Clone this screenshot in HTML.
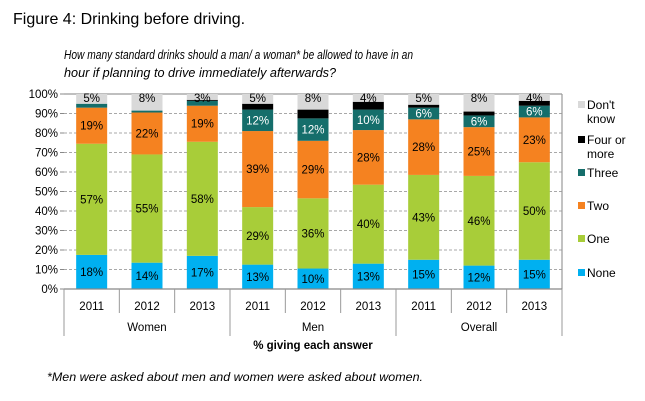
<!DOCTYPE html>
<html><head><meta charset="utf-8"><style>
body{margin:0;background:#fff}
svg{display:block;font-family:"Liberation Sans",Arial,sans-serif}
</style></head><body>
<svg id="s" width="645" height="401" viewBox="0 0 645 401" xmlns="http://www.w3.org/2000/svg">
<text x="13" y="24" font-size="16" fill="#000">Figure 4: Drinking before driving.</text>
<text x="64" y="59" font-size="12.5" font-style="italic" fill="#000" textLength="349" lengthAdjust="spacingAndGlyphs">How many standard drinks should a man/ a woman* be allowed to have in an</text>
<text x="64" y="77" font-size="12.5" font-style="italic" fill="#000" textLength="272" lengthAdjust="spacingAndGlyphs">hour if planning to drive immediately afterwards?</text>
<text x="47" y="381" font-size="12" font-style="italic" fill="#000" textLength="376" lengthAdjust="spacingAndGlyphs">*Men were asked about men and women were asked about women.</text>
<g id="g"></g>
</svg>
<script>
const g=document.getElementById('g');let h='';
const X0=64,X1=562,Y0=289,K=1.95;const W=(X1-X0)/9;
const y=v=>Y0-v*K;
for(let i=0;i<=10;i++){const yy=y(i*10);
 if(i>0&&i<10)h+=`<line x1="${X0}" x2="${X1}" y1="${yy}" y2="${yy}" stroke="#8c8c8c" stroke-width="0.8" stroke-dasharray="3,2"/>`;
 h+=`<line x1="${X0-4}" x2="${X0}" y1="${yy}" y2="${yy}" stroke="#888"/>`;
 h+=`<text x="${X0-6}" y="${yy+4}" font-size="11.5" text-anchor="end">${i*10}%</text>`;}
h+=`<line x1="${X0}" x2="${X1}" y1="${y(100)}" y2="${y(100)}" stroke="#999" stroke-width="1.2"/>`;
h+=`<line x1="${X1}" x2="${X1}" y1="${y(100)}" y2="${Y0}" stroke="#999" stroke-width="1.2"/>`;
const C=['#00b0f0','#a8cd39','#f58220','#156e6b','#000','#d9d9d9'];
const D=[[17.5,74.5,93,95,95,100],[13.5,69,90.5,91.5,91.5,100],[17,75.5,94,96.5,97,100],
[12.5,42,81,92,95,100],[10.5,46.5,76,87.5,92,100],[13,53.5,81.5,92,96,100],
[15,58.5,87,93,94.5,100],[12,58,83,89,91,100],[15,65,88,94,96.5,100]];
const L=[['18%','57%','19%','','','5%'],['14%','55%','22%','','','8%'],['17%','58%','19%','','','3%'],
['13%','29%','39%','12%','','5%'],['10%','36%','29%','12%','','8%'],['13%','40%','28%','10%','','4%'],
['15%','43%','28%','6%','','5%'],['12%','46%','25%','6%','','8%'],['15%','50%','23%','6%','','4%']];
const yrs=['2011','2012','2013'];
D.forEach((d,i)=>{const cx=X0+W*(i+.5),bw=31;let p=0;
 d.forEach((t,j)=>{if(t>p){h+=`<rect x="${cx-bw/2}" y="${y(t)}" width="${bw}" height="${(t-p)*K}" fill="${C[j]}"/>`;}
  if(L[i][j]){let ty=(y(p)+y(t))/2+4;if(j==5)ty=y(100)+8;
   h+=`<text x="${cx}" y="${ty}" font-size="11.5" text-anchor="middle" fill="${j==3?'#fff':'#000'}">${L[i][j]}</text>`;}
  p=t;});
 h+=`<text x="${cx}" y="310" font-size="11.5" text-anchor="middle">${yrs[i%3]}</text>`;});
h+=`<line x1="${X0}" x2="${X1}" y1="${Y0}" y2="${Y0}" stroke="#888" stroke-width="1.2"/>`;
for(let i=0;i<=9;i++){const xx=X0+W*i;h+=`<line x1="${xx}" x2="${xx}" y1="${Y0}" y2="${i%3==0?336:313}" stroke="#999"/>`;}
['Women','Men','Overall'].forEach((n,i)=>h+=`<text x="${X0+W*(i*3+1.5)}" y="331" font-size="11.5" text-anchor="middle">${n}</text>`);
h+=`<text x="${X0+W*4.5}" y="349" font-size="11.5" font-weight="bold" text-anchor="middle">% giving each answer</text>`;
const LG=[['#d9d9d9',['Don\'t','know'],109],['#000',['Four or','more'],144],['#156e6b',['Three'],177],['#f58220',['Two'],210],['#a8cd39',['One'],243],['#00b0f0',['None'],277]];
LG.forEach(([c,t,yy])=>{h+=`<rect x="578" y="${yy-8}" width="7" height="7" fill="${c}"/>`;
 t.forEach((s,k)=>h+=`<text x="587" y="${yy+k*14}" font-size="12">${s}</text>`);});
g.innerHTML=h;
</script>
</body></html>
